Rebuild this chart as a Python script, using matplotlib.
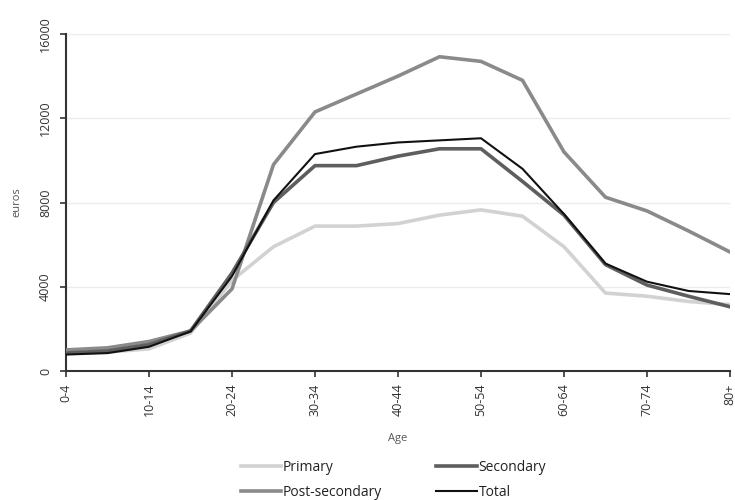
import matplotlib
matplotlib.use("Agg")
import matplotlib.pyplot as plt
import numpy as np

ages = ["0-4", "5-9", "10-14", "15-19", "20-24", "25-29", "30-34", "35-39", "40-44",
        "45-49", "50-54", "55-59", "60-64", "65-69", "70-74", "75-79", "80+"]
primary = [850, 900, 1050, 1800, 4300, 5900, 6880, 6880, 7000, 7400, 7650, 7350, 5900, 3700, 3550, 3300, 3150]
secondary = [850, 950, 1250, 1900, 4650, 8000, 9750, 9750, 10200, 10550, 10550, 9000, 7400, 5050, 4080, 3550, 3050]
post_secondary = [1000, 1100, 1400, 1900, 3900, 9800, 12300, 13150, 14000, 14920, 14700, 13800, 10400, 8250, 7600, 6650, 5650]
total = [780, 850, 1150, 1880, 4500, 8100, 10300, 10650, 10850, 10950, 11050, 9600, 7450, 5100, 4240, 3800, 3650]
yticks = [0, 4000, 8000, 12000, 16000]

plt.rcParams['font.family'] = ['Open Sans', 'DejaVu Sans']
fig = plt.figure(figsize=(7.35, 5.0), dpi=100)
ax = fig.add_axes([66/735, 1-371/500, (730-66)/735, (371-34)/500])

x = np.arange(len(ages))
ax.plot(x, primary, color="#d2d2d2", lw=2.6, label="Primary", zorder=3)
ax.plot(x, post_secondary, color="#8a8a8a", lw=2.6, label="Post-secondary", zorder=4)
ax.plot(x, secondary, color="#5e5e5e", lw=2.6, label="Secondary", zorder=5)
ax.plot(x, total, color="#111111", lw=1.5, label="Total", zorder=6)

ax.set_xlim(0, len(ages)-1)
ax.set_ylim(0, 16000)
ax.set_yticks(yticks)
ax.set_yticklabels([str(v) for v in yticks], rotation=90, va="center", fontsize=9, color="#333333")
ax.set_xticks(x[::2])
ax.set_xticklabels(ages[::2], rotation=90, fontsize=9, color="#333333")
ax.tick_params(axis="both", direction="out", length=4, width=1.2, color="#333333")
ax.tick_params(axis="y", pad=6)
ax.tick_params(axis="x", pad=5)
ax.grid(axis="y", color="#ececec", lw=1)
ax.set_axisbelow(True)
for s in ["top", "right"]:
    ax.spines[s].set_visible(False)
for s in ["left", "bottom"]:
    ax.spines[s].set_linewidth(1.5)
    ax.spines[s].set_color("#333333")

ax.set_xlabel("Age", fontsize=8, color="#555555", labelpad=12)
ax.set_ylabel("euros", fontsize=8, color="#555555", labelpad=12)

h, l = ax.get_legend_handles_labels()
hd = dict(zip(l, h))
names = ["Primary", "Post-secondary", "Secondary", "Total"]
leg = fig.legend([hd[n] for n in names], names, ncol=2, loc="lower left",
                 bbox_to_anchor=(228/735, -0.025), frameon=False, fontsize=10,
                 handlelength=2.9, handletextpad=0.15, columnspacing=3.9, labelspacing=0.75)
for t in leg.get_texts():
    t.set_color("#222222")

fig.savefig("out.png", dpi=100, facecolor="white")
